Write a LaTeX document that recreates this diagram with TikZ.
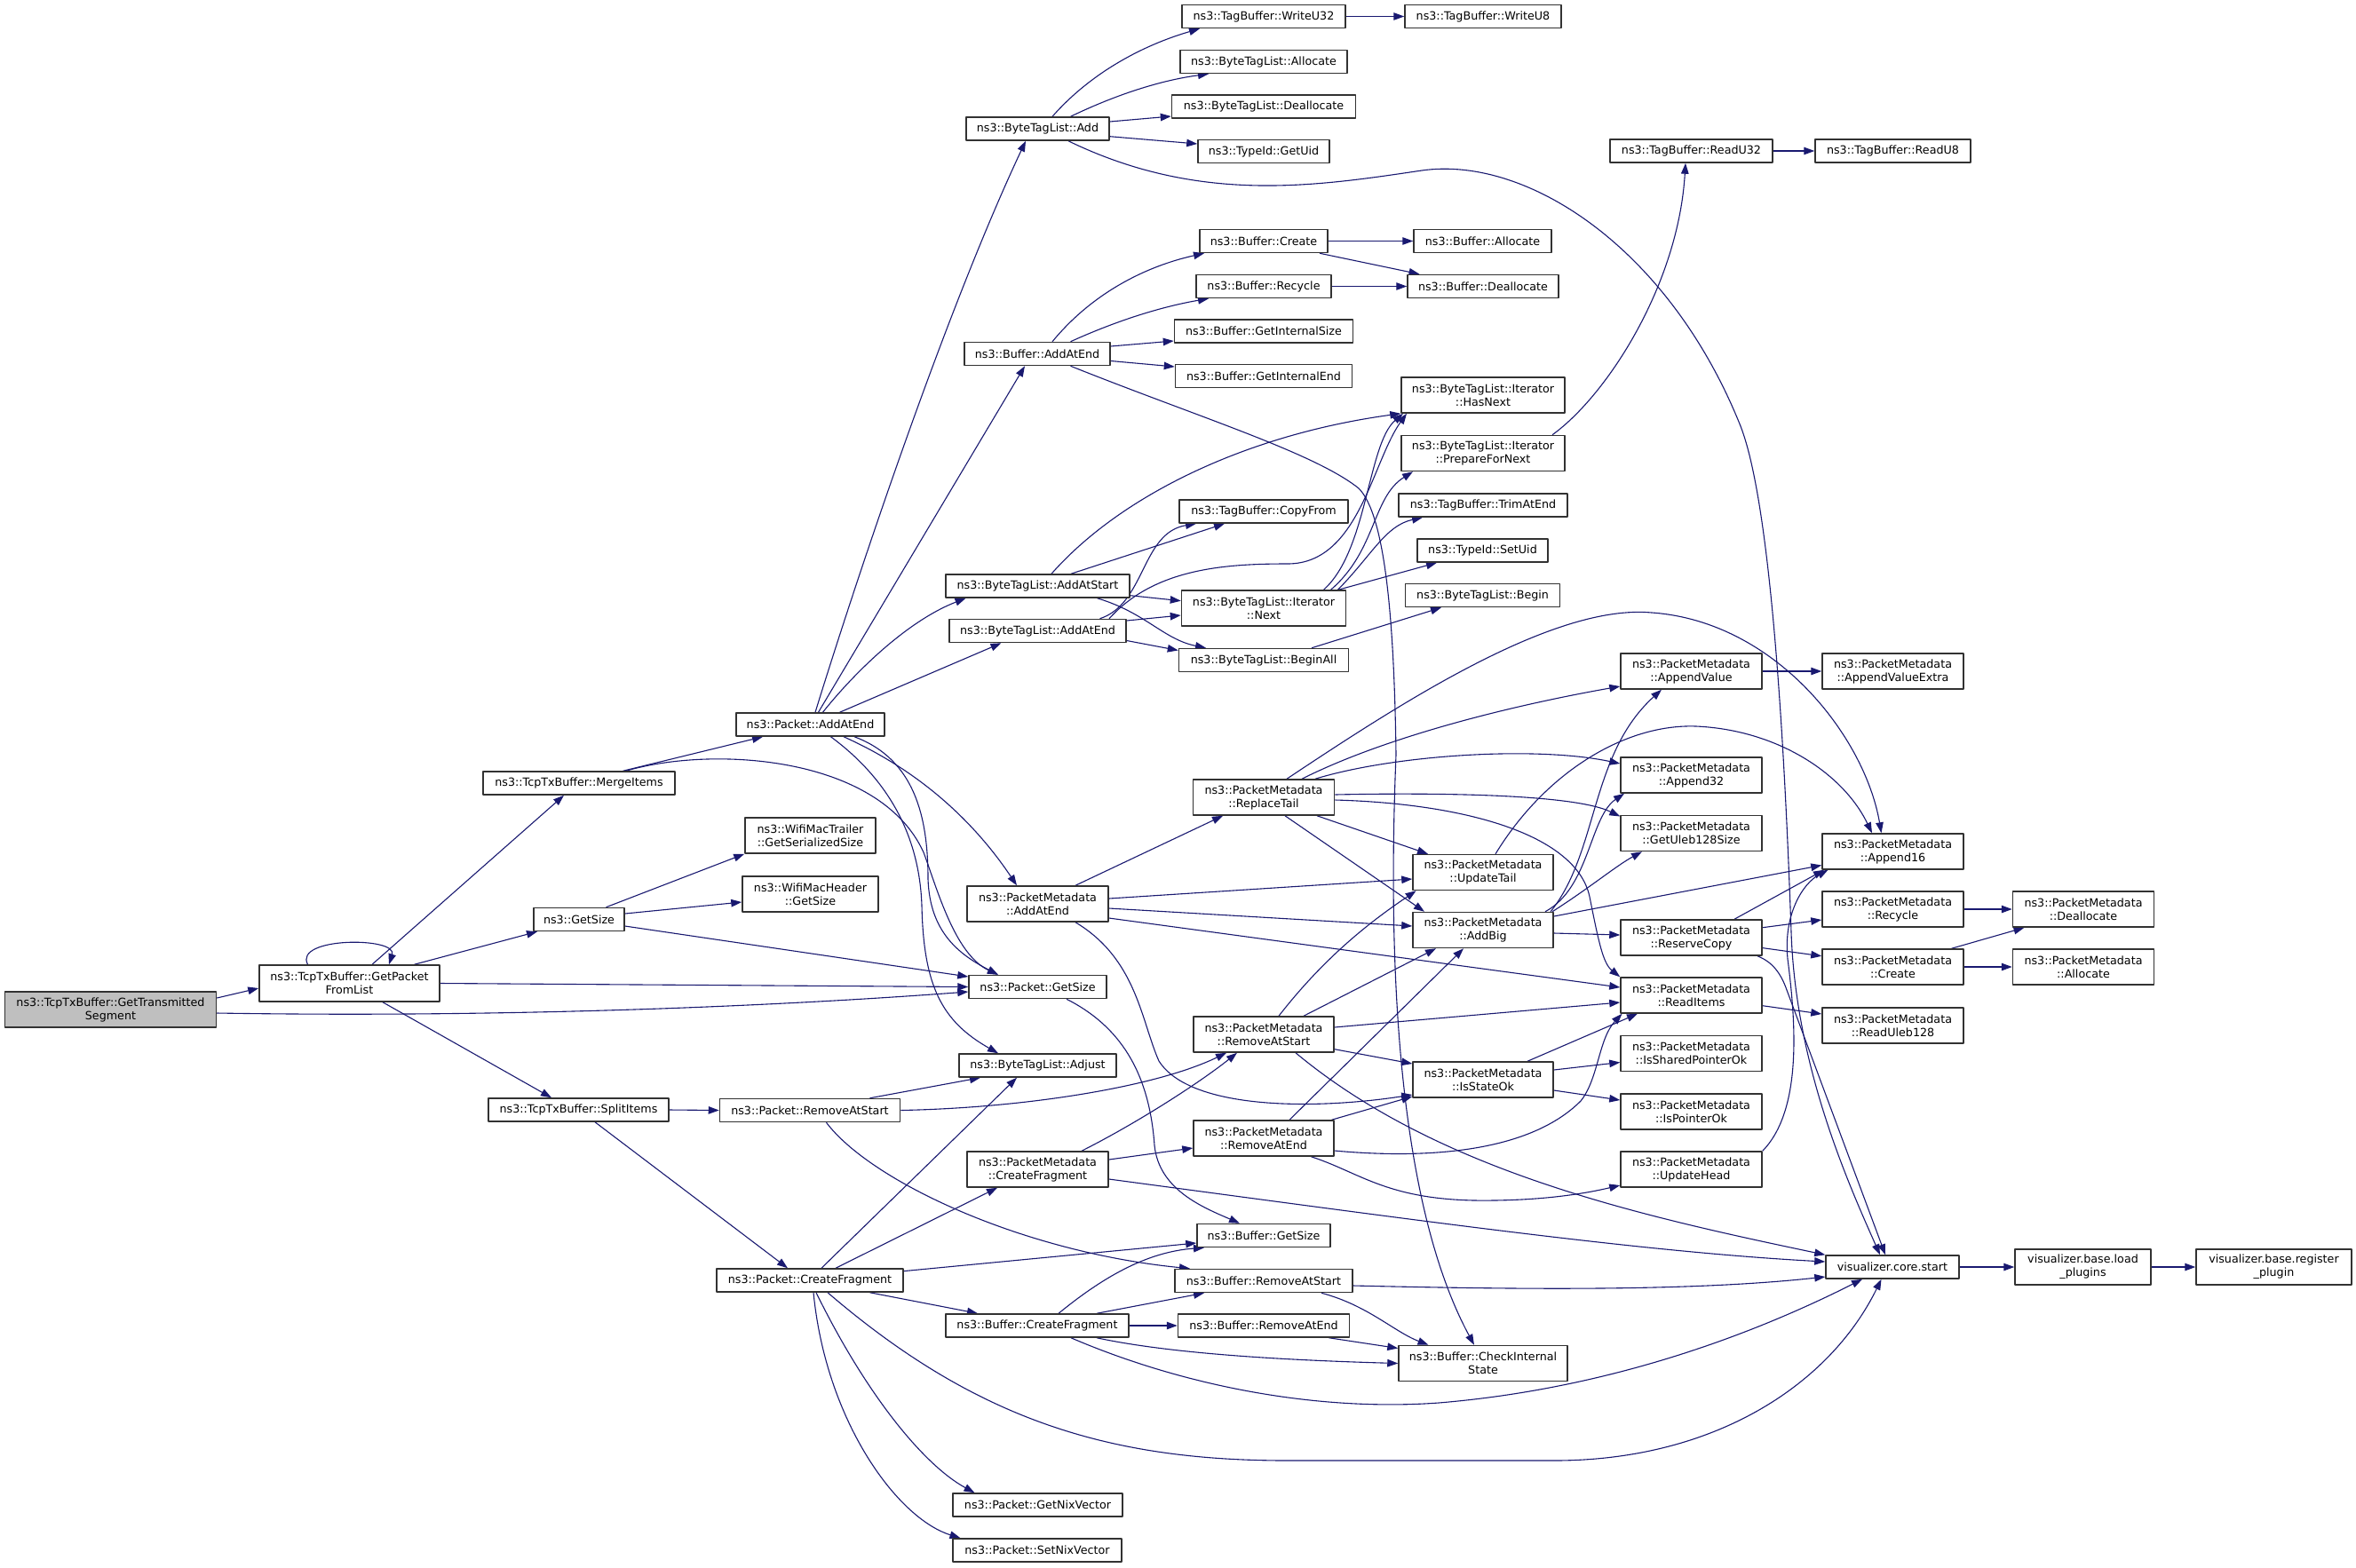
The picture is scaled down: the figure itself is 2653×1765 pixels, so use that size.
\documentclass[tikz,border=0pt]{standalone}
\usepackage{fontspec}
\setmainfont{DejaVu Sans}
\usetikzlibrary{arrows.meta}
\definecolor{callblue}{RGB}{25,25,112}
\definecolor{boxgray}{RGB}{50,50,50}
\pgfdeclarelayer{background}
\pgfsetlayers{background,main}
\tikzset{
  fn/.style={draw=boxgray,line width=1.5pt,fill=white,inner sep=0pt,minimum height=26,align=center,font=\fontsize{12.7}{15}\selectfont},
  fn2/.style={fn,minimum height=40},
  root/.style={fn2,fill=black!25},
  call/.style={->,draw=callblue,line width=1.1pt}
}
\begin{document}
\begin{tikzpicture}[line cap=round,line join=round,>={Triangle[length=12pt,width=8.5pt]},x=1pt,y=-1pt]
            \clip(0.,0.) rectangle (2653.,1765.);
            \node [root,minimum width=238] (gts) at (124.5,1137) {ns3::TcpTxBuffer::GetTransmitted\\Segment};
            \node [fn2,minimum width=203,minimum height=41] (gpfl) at (393.5,1107.5) {ns3::TcpTxBuffer::GetPacket\\FromList};
            \node [fn,minimum width=216] (merge) at (652,882) {ns3::TcpTxBuffer::MergeItems};
            \node [fn,minimum width=102] (getsize) at (652,1035.5) {ns3::GetSize};
            \node [fn,minimum width=203] (split) at (651.5,1250) {ns3::TcpTxBuffer::SplitItems};
            \node [fn2,minimum width=147] (trailer) at (912.5,941) {ns3::WifiMacTrailer\\::GetSerializedSize};
            \node [fn2,minimum width=153] (header) at (912.5,1007) {ns3::WifiMacHeader\\::GetSize};
            \node [fn,minimum width=167] (pAddAtEnd) at (912.5,816) {ns3::Packet::AddAtEnd};
            \node [fn,minimum width=203] (pRemoveAtStart) at (912,1250.5) {ns3::Packet::RemoveAtStart};
            \node [fn,minimum width=210] (pCreateFragment) at (912,1442) {ns3::Packet::CreateFragment};
            \node [fn,minimum width=161] (bAdd) at (1168.5,145) {ns3::ByteTagList::Add};
            \node [fn,minimum width=164] (bufAddAtEnd) at (1168,398.5) {ns3::Buffer::AddAtEnd};
            \node [fn,minimum width=207] (bAddAtStart) at (1168.5,660) {ns3::ByteTagList::AddAtStart};
            \node [fn,minimum width=199] (bAddAtEnd) at (1168.5,710.5) {ns3::ByteTagList::AddAtEnd};
            \node [fn2,minimum width=159] (pmAddAtEnd) at (1168.5,1018) {ns3::PacketMetadata\\::AddAtEnd};
            \node [fn,minimum width=155] (pGetSize) at (1168.5,1111.5) {ns3::Packet::GetSize};
            \node [fn,minimum width=177] (adjust) at (1168.5,1200) {ns3::ByteTagList::Adjust};
            \node [fn2,minimum width=159] (pmCreateFragment) at (1168.5,1317) {ns3::PacketMetadata\\::CreateFragment};
            \node [fn,minimum width=206] (bufCreateFragment) at (1168,1493) {ns3::Buffer::CreateFragment};
            \node [fn,minimum width=191] (nixGet) at (1168.5,1695) {ns3::Packet::GetNixVector};
            \node [fn,minimum width=190] (nixSet) at (1168,1746) {ns3::Packet::SetNixVector};
            \node [fn,minimum width=184] (writeU32) at (1423,18.5) {ns3::TagBuffer::WriteU32};
            \node [fn,minimum width=188] (bAllocate) at (1423,69.5) {ns3::ByteTagList::Allocate};
            \node [fn,minimum width=207] (bDeallocate) at (1423,120) {ns3::ByteTagList::Deallocate};
            \node [fn,minimum width=148] (getUid) at (1423,170.5) {ns3::TypeId::GetUid};
            \node [fn,minimum width=144] (bufCreate) at (1423,271.5) {ns3::Buffer::Create};
            \node [fn,minimum width=152] (bufRecycle) at (1423,322.5) {ns3::Buffer::Recycle};
            \node [fn,minimum width=201] (internalSize) at (1423,373) {ns3::Buffer::GetInternalSize};
            \node [fn,minimum width=199] (internalEnd) at (1423,423.5) {ns3::Buffer::GetInternalEnd};
            \node [fn,minimum width=190] (copyFrom) at (1423,576) {ns3::TagBuffer::CopyFrom};
            \node [fn2,minimum width=185] (next) at (1423,685) {ns3::ByteTagList::Iterator\\::Next};
            \node [fn,minimum width=191] (beginAll) at (1423,743.5) {ns3::ByteTagList::BeginAll};
            \node [fn2,minimum width=159] (replaceTail) at (1423,898) {ns3::PacketMetadata\\::ReplaceTail};
            \node [fn2,minimum width=158] (pmRemoveAtStart) at (1423,1165) {ns3::PacketMetadata\\::RemoveAtStart};
            \node [fn2,minimum width=158] (pmRemoveAtEnd) at (1423,1282) {ns3::PacketMetadata\\::RemoveAtEnd};
            \node [fn,minimum width=150] (bufGetSize) at (1423,1391.5) {ns3::Buffer::GetSize};
            \node [fn,minimum width=200] (bufRemoveAtStart) at (1423,1442.5) {ns3::Buffer::RemoveAtStart};
            \node [fn,minimum width=193] (bufRemoveAtEnd) at (1423,1493) {ns3::Buffer::RemoveAtEnd};
            \node [fn,minimum width=176] (writeU8) at (1670,18.5) {ns3::TagBuffer::WriteU8};
            \node [fn,minimum width=155] (bufAllocate) at (1669.5,271.5) {ns3::Buffer::Allocate};
            \node [fn,minimum width=170] (bufDeallocate) at (1670,322.5) {ns3::Buffer::Deallocate};
            \node [fn2,minimum width=184] (hasNext) at (1670,445) {ns3::ByteTagList::Iterator\\::HasNext};
            \node [fn2,minimum width=184] (prepareForNext) at (1670,510.5) {ns3::ByteTagList::Iterator\\::PrepareForNext};
            \node [fn,minimum width=190] (trimAtEnd) at (1670,569) {ns3::TagBuffer::TrimAtEnd};
            \node [fn,minimum width=147] (setUid) at (1669.5,620) {ns3::TypeId::SetUid};
            \node [fn,minimum width=174] (begin) at (1669.6,670.5) {ns3::ByteTagList::Begin};
            \node [fn2,minimum width=158] (updateTail) at (1670,982.5) {ns3::PacketMetadata\\::UpdateTail};
            \node [fn2,minimum width=158] (addBig) at (1670,1047.5) {ns3::PacketMetadata\\::AddBig};
            \node [fn2,minimum width=158] (isStateOk) at (1670,1216) {ns3::PacketMetadata\\::IsStateOk};
            \node [fn2,minimum width=190] (checkState) at (1670,1535.5) {ns3::Buffer::CheckInternal\\State};
            \node [fn,minimum width=183] (readU32) at (1904.5,170) {ns3::TagBuffer::ReadU32};
            \node [fn2,minimum width=159] (appendValue) at (1904.5,756) {ns3::PacketMetadata\\::AppendValue};
            \node [fn2,minimum width=159] (append32) at (1904.5,873) {ns3::PacketMetadata\\::Append32};
            \node [fn2,minimum width=159] (uleb128Size) at (1904.5,938.5) {ns3::PacketMetadata\\::GetUleb128Size};
            \node [fn2,minimum width=159] (reserveCopy) at (1904.5,1056) {ns3::PacketMetadata\\::ReserveCopy};
            \node [fn2,minimum width=159] (readItems) at (1904.5,1121) {ns3::PacketMetadata\\::ReadItems};
            \node [fn2,minimum width=159] (sharedPtrOk) at (1904.5,1186.5) {ns3::PacketMetadata\\::IsSharedPointerOk};
            \node [fn2,minimum width=159] (pointerOk) at (1904.5,1252) {ns3::PacketMetadata\\::IsPointerOk};
            \node [fn2,minimum width=159] (updateHead) at (1904.5,1317) {ns3::PacketMetadata\\::UpdateHead};
            \node [fn,minimum width=175] (readU8) at (2131.5,170) {ns3::TagBuffer::ReadU8};
            \node [fn2,minimum width=159] (appendValueExtra) at (2131.5,756) {ns3::PacketMetadata\\::AppendValueExtra};
            \node [fn2,minimum width=159] (append16) at (2131.5,959) {ns3::PacketMetadata\\::Append16};
            \node [fn2,minimum width=159] (pmRecycle) at (2131.5,1024) {ns3::PacketMetadata\\::Recycle};
            \node [fn2,minimum width=159] (pmCreate) at (2131.5,1089) {ns3::PacketMetadata\\::Create};
            \node [fn2,minimum width=159] (readUleb128) at (2131.5,1155) {ns3::PacketMetadata\\::ReadUleb128};
            \node [fn,minimum width=150] (vizStart) at (2131,1427) {visualizer.core.start};
            \node [fn2,minimum width=159] (pmDeallocate) at (2346,1024) {ns3::PacketMetadata\\::Deallocate};
            \node [fn2,minimum width=159] (pmAllocate) at (2346,1089) {ns3::PacketMetadata\\::Allocate};
            \node [fn2,minimum width=153] (loadPlugins) at (2345.5,1427) {visualizer.base.load\\\_plugins};
            \node [fn2,minimum width=175] (registerPlugin) at (2560.5,1427) {visualizer.base.register\\\_plugin};
            \begin{pgfonlayer}{background}
            \draw [call] ([yshift=13]gts.east) -- ([yshift=-5.5]gpfl.west);
            \draw [call] ([yshift=-4]gts.east) .. controls (550,1146) and (850,1135) .. ([yshift=-5.5]pGetSize.west);
            \draw [call] ([xshift=-47]gpfl.north) .. controls (330,1055) and (448,1055) .. ([xshift=44.5]gpfl.north);
            \draw [call] ([xshift=25.5]gpfl.north) -- ([xshift=-17]merge.south);
            \draw [call] ([xshift=73]gpfl.north) -- ([xshift=-47]getsize.south);
            \draw [call] (gpfl.east) -- (pGetSize.west);
            \draw [call] ([xshift=37.5]gpfl.south) -- ([xshift=-30.5]split.north);
            \draw [call] ([xshift=49.5]merge.north) -- ([xshift=-53.5]pAddAtEnd.south);
            \draw [call] ([xshift=53]merge.north) .. controls (800,840) and (990,850) .. (1040,960) .. controls (1055,1000) and (1075,1075) .. ([xshift=-44.5]pGetSize.north);
            \draw [call] ([xshift=30.5]getsize.north) -- (trailer.south west);
            \draw [call] ([yshift=6.5]getsize.east) -- ([yshift=-9]header.west);
            \draw [call] ([yshift=-7.5]getsize.east) -- ([yshift=11.5]pGetSize.west);
            \draw [call] ([xshift=5.5]pAddAtEnd.north) .. controls (965,650) and (1065,350) .. ([xshift=-13.5]bAdd.south);
            \draw [call] ([xshift=9]pAddAtEnd.north) -- ([xshift=-14]bufAddAtEnd.south);
            \draw [call] ([xshift=14]pAddAtEnd.north) .. controls (960,760) and (1020,700) .. ([xshift=-81]bAddAtStart.south);
            \draw [call] ([xshift=33]pAddAtEnd.north) -- ([xshift=-41]bAddAtEnd.south);
            \draw [call] ([xshift=37.5]pAddAtEnd.south) .. controls (1040,870) and (1100,930) .. ([xshift=-23.5]pmAddAtEnd.north);
            \draw [call] ([xshift=49.5]pAddAtEnd.south) .. controls (1030,855) and (1045,920) .. (1045,990) .. controls (1047,1050) and (1080,1075) .. ([xshift=-44.5]pGetSize.north);
            \draw [call] ([xshift=23]pAddAtEnd.south) .. controls (990,870) and (1035,930) .. (1038,1020) .. controls (1040,1110) and (1060,1150) .. ([xshift=-44.5]adjust.north);
            \draw [call] ([xshift=42.5]pmAddAtEnd.north) -- ([xshift=-46]replaceTail.south);
            \draw [call] ([yshift=6]pmAddAtEnd.east) -- ([yshift=-7.5]updateTail.west);
            \draw [call] ([yshift=-5]pmAddAtEnd.east) -- ([yshift=4.5]addBig.west);
            \draw [call] ([yshift=-16]pmAddAtEnd.east) -- ([yshift=9]readItems.west);
            \draw [call] ([xshift=42.5]pmAddAtEnd.south) .. controls (1280,1080) and (1285,1150) .. (1305,1195) .. controls (1340,1250) and (1480,1250) .. ([yshift=-17]isStateOk.west);
            \draw [call] ([xshift=26]replaceTail.north) .. controls (1580,790) and (1750,680) .. (1860,690) .. controls (2000,700) and (2100,830) .. ([xshift=-13]append16.north);
            \draw [call] ([xshift=43]replaceTail.north) .. controls (1560,830) and (1700,795) .. ([yshift=-17]appendValue.west);
            \draw [call] ([xshift=58]replaceTail.north) .. controls (1570,850) and (1730,840) .. ([yshift=13]append32.west);
            \draw [call] ([yshift=3]replaceTail.east) .. controls (1600,893) and (1770,893) .. ([yshift=19]uleb128Size.west);
            \draw [call] ([yshift=-3]replaceTail.east) .. controls (1650,905) and (1775,940) .. (1790,1010) .. controls (1800,1060) and (1805,1085) .. (readItems.north west);
            \draw [call] ([xshift=60]replaceTail.south) -- ([xshift=-62]updateTail.north);
            \draw [call] ([xshift=24]replaceTail.south) -- ([xshift=-66]addBig.north);
            \draw [call] ([xshift=14]updateTail.north) .. controls (1740,870) and (1830,815) .. (1910,818) .. controls (2000,822) and (2075,870) .. ([xshift=-23.5]append16.north);
            \draw [call] ([xshift=76]addBig.north) .. controls (1800,960) and (1790,850) .. ([xshift=-33.5]appendValue.south);
            \draw [call] ([xshift=70]addBig.north) .. controls (1790,1000) and (1790,920) .. ([xshift=-75.5]append32.south);
            \draw [call] ([xshift=78]addBig.north) .. controls (1790,1000) and (1820,975) .. ([xshift=-55.5]uleb128Size.south);
            \draw [call] ([yshift=15.5]addBig.east) -- ([yshift=-15.5]append16.west);
            \draw [call] ([yshift=-3.5]addBig.east) -- ([yshift=3]reserveCopy.west);
            \draw [call] ([xshift=48.5]reserveCopy.north) -- ([xshift=-77.5]append16.south);
            \draw [call] ([yshift=11.3]reserveCopy.east) -- ([yshift=-12]pmRecycle.west);
            \draw [call] ([yshift=-11.6]reserveCopy.east) -- ([yshift=12.2]pmCreate.west);
            \draw [call] ([xshift=74.5]reserveCopy.south) .. controls (1995,1083) and (2005,1095) .. (2012,1115) -- ([xshift=-8]vizStart.north);
            \draw [call] (updateHead.north east) .. controls (2030,1250) and (2022,1150) .. (2013,1080) .. controls (2008,1030) and (2030,995) .. ([xshift=-73]append16.south);
            \draw [call] ([xshift=16.5]bAdd.north) .. controls (1230,80) and (1290,50) .. ([xshift=-72]writeU32.south);
            \draw [call] ([xshift=37]bAdd.north) .. controls (1260,105) and (1310,90) .. ([xshift=-62]bAllocate.south);
            \draw [call] ([yshift=8]bAdd.east) -- ([yshift=-11]bDeallocate.west);
            \draw [call] ([yshift=-8.7]bAdd.east) -- ([yshift=8.5]getUid.west);
            \draw [call] ([xshift=34.5]bAdd.south) .. controls (1350,230) and (1480,210) .. (1601,192) .. controls (1720,175) and (1880,280) .. (1960,480) .. controls (1995,570) and (2010,850) .. (2017,1050) .. controls (2022,1200) and (2080,1330) .. ([xshift=-14]vizStart.north);
            \draw [call] ([xshift=17]bufAddAtEnd.north) .. controls (1230,330) and (1290,300) .. ([xshift=-67]bufCreate.south);
            \draw [call] ([xshift=37.5]bufAddAtEnd.north) .. controls (1260,360) and (1310,345) .. ([xshift=-62]bufRecycle.south);
            \draw [call] ([yshift=8.5]bufAddAtEnd.east) -- ([yshift=-11]internalSize.west);
            \draw [call] ([yshift=-8]bufAddAtEnd.east) -- ([yshift=10.5]internalEnd.west);
            \draw [call] ([xshift=37.5]bufAddAtEnd.south) .. controls (1350,470) and (1480,510) .. (1530,550) .. controls (1560,580) and (1570,700) .. (1572,850) .. controls (1566,1000) and (1560,1330) .. ([xshift=-10]checkState.north);
            \draw [call] (bufCreate.east) -- (bufAllocate.west);
            \draw [call] ([xshift=63]bufCreate.south) -- ([xshift=-71.5]bufDeallocate.north);
            \draw [call] (bufRecycle.east) -- (bufDeallocate.west);
            \draw [call] (writeU32.east) -- (writeU8.west);
            \draw [call] (readU32.east) -- (readU8.west);
            \draw [call] ([xshift=78]prepareForNext.north) .. controls (1810,445) and (1890,320) .. ([xshift=-6.5]readU32.south);
            \draw [call] ([xshift=15.5]bAddAtStart.north) .. controls (1260,560) and (1400,490) .. (hasNext.south west);
            \draw [call] ([xshift=37.5]bAddAtStart.north) -- ([xshift=-44]copyFrom.south);
            \draw [call] ([yshift=-10.7]bAddAtStart.east) -- ([yshift=8.3]next.west);
            \draw [call] ([xshift=67]bAddAtStart.south) .. controls (1290,690) and (1310,720) .. ([xshift=-65]beginAll.north);
            \draw [call] ([xshift=70]bAddAtEnd.north) .. controls (1290,680) and (1285,600) .. ([xshift=-76]copyFrom.south);
            \draw [call] ([xshift=80.5]bAddAtEnd.north) .. controls (1300,640) and (1380,635) .. (1450,635) .. controls (1530,635) and (1545,520) .. ([xshift=-86]hasNext.south);
            \draw [call] ([yshift=11.5]bAddAtEnd.east) -- ([yshift=-8]next.west);
            \draw [call] ([yshift=-11]bAddAtEnd.east) -- ([yshift=11]beginAll.west);
            \draw [call] ([xshift=67.5]next.north) .. controls (1540,620) and (1540,500) .. ([xshift=-90]hasNext.south);
            \draw [call] ([xshift=75.5]next.north) .. controls (1550,620) and (1545,560) .. ([xshift=-79]prepareForNext.south);
            \draw [call] ([xshift=83.5]next.north) .. controls (1545,625) and (1560,592) .. ([xshift=-68]trimAtEnd.south);
            \draw [call] ([xshift=84]next.north) -- ([xshift=-51.5]setUid.south);
            \draw [call] ([xshift=54]beginAll.north) -- ([xshift=-46.6]begin.south);
            \draw [call] ([xshift=17]pmRemoveAtStart.north) .. controls (1490,1080) and (1540,1040) .. ([xshift=-75.4]updateTail.south);
            \draw [call] ([xshift=45]pmRemoveAtStart.north) -- ([xshift=-53]addBig.south);
            \draw [call] ([yshift=8]pmRemoveAtStart.east) -- ([yshift=-8]readItems.west);
            \draw [call] ([yshift=-16.7]pmRemoveAtStart.east) -- ([yshift=18]isStateOk.west);
            \draw [call] ([xshift=36]pmRemoveAtStart.south) .. controls (1620,1320) and (1850,1370) .. (vizStart.north west);
            \draw [call] ([xshift=29]pmRemoveAtEnd.north) -- ([xshift=-22]addBig.south);
            \draw [call] ([xshift=76.5]pmRemoveAtEnd.north) -- ([yshift=-19]isStateOk.west);
            \draw [call] ([yshift=-14]pmRemoveAtEnd.east) .. controls (1600,1305) and (1720,1300) .. (1780,1240) .. controls (1800,1215) and (1800,1170) .. ([xshift=-78]readItems.south);
            \draw [call] ([xshift=53.5]pmRemoveAtEnd.south) .. controls (1530,1320) and (1560,1350) .. (1660,1352) .. controls (1740,1353) and (1790,1343) .. ([yshift=-18]updateHead.west);
            \draw [call] ([xshift=49.5]pmCreateFragment.north) .. controls (1280,1265) and (1350,1220) .. ([xshift=-30]pmRemoveAtStart.south);
            \draw [call] ([yshift=11]pmCreateFragment.east) -- ([yshift=-11]pmRemoveAtEnd.west);
            \draw [call] ([yshift=-11]pmCreateFragment.east) .. controls (1600,1375) and (1850,1410) .. ([yshift=6]vizStart.west);
            \draw [call] ([yshift=-5.5]bufRemoveAtStart.east) .. controls (1700,1452) and (1900,1455) .. ([yshift=-11]vizStart.west);
            \draw [call] ([xshift=65]bufRemoveAtStart.south) .. controls (1540,1470) and (1570,1500) .. ([xshift=-61.5]checkState.north);
            \draw [call] ([xshift=73.5]bufRemoveAtEnd.south) -- ([yshift=17]checkState.west);
            \draw [call] ([xshift=24]bufCreateFragment.north) .. controls (1240,1440) and (1290,1410) .. ([xshift=-67]bufGetSize.south);
            \draw [call] ([xshift=67]bufCreateFragment.north) -- ([xshift=-67]bufRemoveAtStart.south);
            \draw [call] (bufCreateFragment.east) -- (bufRemoveAtEnd.west);
            \draw [call] ([xshift=67]bufCreateFragment.south) .. controls (1320,1525) and (1450,1532) .. (checkState.west);
            \draw [call] ([xshift=38]bufCreateFragment.south) .. controls (1330,1560) and (1480,1590) .. (1620,1580) .. controls (1800,1565) and (1960,1510) .. ([xshift=-34]vizStart.south);
            \draw [call] ([xshift=13]pCreateFragment.north) -- ([xshift=-23.5]adjust.south);
            \draw [call] ([xshift=29]pCreateFragment.north) -- ([xshift=-45.5]pmCreateFragment.south);
            \draw [call] ([yshift=10.4]pCreateFragment.east) -- ([yshift=-8.5]bufGetSize.west);
            \draw [call] ([xshift=67.5]pCreateFragment.south) -- ([xshift=-67]bufCreateFragment.north);
            \draw [call] ([xshift=7]pCreateFragment.south) .. controls (975,1570) and (1040,1650) .. ([xshift=-71]nixGet.north);
            \draw [call] ([xshift=4]pCreateFragment.south) .. controls (930,1600) and (1010,1710) .. ([xshift=-86.5]nixSet.north);
            \draw [call] ([xshift=20]pCreateFragment.south) .. controls (1100,1600) and (1250,1645) .. (1450,1645) -- (1750,1645) .. controls (1930,1645) and (2060,1560) .. ([xshift=-12.5]vizStart.south);
            \draw [call] ([xshift=67.5]pRemoveAtStart.north) -- ([xshift=-64.5]adjust.south);
            \draw [call] (pRemoveAtStart.east) .. controls (1150,1248) and (1300,1225) .. ([xshift=-42]pmRemoveAtStart.south);
            \draw [call] ([xshift=18.5]pRemoveAtStart.south) .. controls (980,1330) and (1150,1410) .. ([xshift=-83]bufRemoveAtStart.north);
            \draw [call] (split.east) -- (pRemoveAtStart.west);
            \draw [call] ([xshift=18.5]split.south) -- ([xshift=-25]pCreateFragment.north);
            \draw [call] ([xshift=32.5]pGetSize.south) .. controls (1270,1160) and (1295,1220) .. (1300,1290) .. controls (1305,1340) and (1355,1360) .. ([xshift=-27]bufGetSize.north);
            \draw [call] ([xshift=50]isStateOk.north) -- ([xshift=-60.5]readItems.south);
            \draw [call] ([yshift=11]isStateOk.east) -- ([yshift=-10]sharedPtrOk.west);
            \draw [call] ([yshift=-12]isStateOk.east) -- ([yshift=13]pointerOk.west);
            \draw [call] ([yshift=-11.7]readItems.east) -- ([yshift=13]readUleb128.west);
            \draw [call] ([xshift=66]pmCreate.north) -- ([xshift=-66.5]pmDeallocate.south);
            \draw [call] (pmCreate.east) -- (pmAllocate.west);
            \draw [call] (pmRecycle.east) -- (pmDeallocate.west);
            \draw [call] (appendValue.east) -- (appendValueExtra.west);
            \draw [call] (vizStart.east) -- (loadPlugins.west);
            \draw [call] (loadPlugins.east) -- (registerPlugin.west);
            \end{pgfonlayer}
\end{tikzpicture}
\end{document}
